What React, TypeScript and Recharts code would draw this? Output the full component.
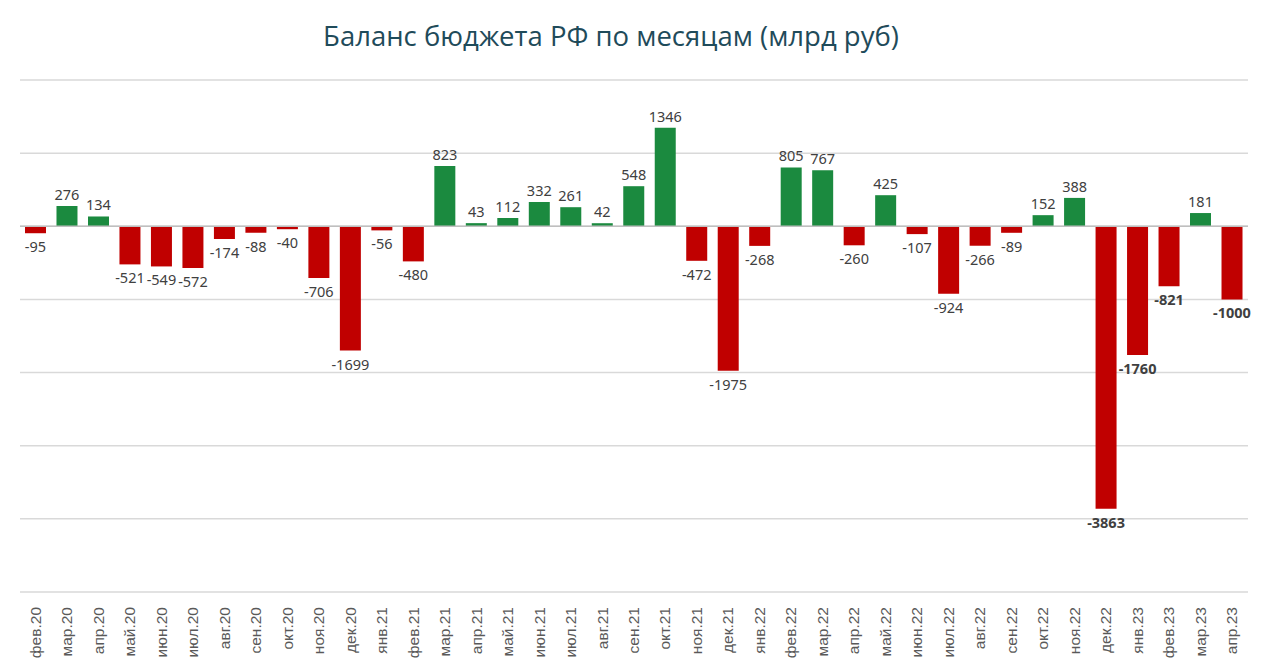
import React from "react";
import {
  BarChart,
  Bar,
  XAxis,
  YAxis,
  CartesianGrid,
  ReferenceLine,
  LabelList,
  Cell,
} from "recharts";

const months = [
  "фев.20", "мар.20", "апр.20", "май.20", "июн.20", "июл.20", "авг.20", "сен.20",
  "окт.20", "ноя.20", "дек.20", "янв.21", "фев.21", "мар.21", "апр.21", "май.21",
  "июн.21", "июл.21", "авг.21", "сен.21", "окт.21", "ноя.21", "дек.21", "янв.22",
  "фев.22", "мар.22", "апр.22", "май.22", "июн.22", "июл.22", "авг.22", "сен.22",
  "окт.22", "ноя.22", "дек.22", "янв.23", "фев.23", "мар.23", "апр.23",
];

const balance = [
  -95, 276, 134, -521, -549, -572, -174, -88,
  -40, -706, -1699, -56, -480, 823, 43, 112,
  332, 261, 42, 548, 1346, -472, -1975, -268,
  805, 767, -260, 425, -107, -924, -266, -89,
  152, 388, -3863, -1760, -821, 181, -1000,
];

// months whose labels are shown in bold
const highlighted = ["дек.22", "янв.23", "фев.23", "апр.23"];

const yTicks = [-5000, -4000, -3000, -2000, -1000, 0, 1000, 2000];

const data = months.map((month, i) => ({ month, value: balance[i] }));

const GREEN = "#1b8a3f";
const RED = "#c00000";

const MonthTick = (props: any) => {
  const { x, y, payload } = props;
  return (
    <text
      x={x + 5}
      y={y + 7}
      transform={`rotate(-90, ${x + 5}, ${y + 7})`}
      textAnchor="end"
      fontFamily="'Liberation Sans', Arial, sans-serif"
      fontSize={15.5}
      fill="#595959"
    >
      {payload.value}
    </text>
  );
};

const ValueLabel = (props: any) => {
  const { x, y, width, height, value, index } = props;
  const top = Math.min(y, y + height);
  const bottom = Math.max(y, y + height);
  const cx = x + width / 2;
  const bold = highlighted.includes(months[index]);
  return (
    <text
      x={cx}
      y={value >= 0 ? top - 6 : bottom + 19}
      textAnchor="middle"
      fontFamily="'Noto Sans', sans-serif"
      fontSize={14.5}
      fontWeight={bold ? 700 : 400}
      fill="#404040"
    >
      {value}
    </text>
  );
};

export default function App() {
  return (
    <div style={{ position: "absolute", left: 0, top: 0, width: 1280, height: 671, background: "#fff" }}>
      <div
        style={{
          position: "absolute",
          left: 0,
          top: 17,
          width: 1222,
          textAlign: "center",
          fontFamily: "'Open Sans', sans-serif",
          fontSize: 27.5,
          color: "#1f4b5a",
        }}
      >
        Баланс бюджета РФ по месяцам (млрд руб)
      </div>
      <BarChart
        width={1280}
        height={671}
        data={data}
        margin={{ top: 80, right: 32, left: 20, bottom: 0 }}
        barSize={21}
      >
        <CartesianGrid vertical={false} stroke="#d9d9d9" strokeWidth={1.5} />
        <XAxis
          dataKey="month"
          interval={0}
          height={79}
          axisLine={false}
          tickLine={false}
          tick={<MonthTick />}
        />
        <YAxis hide domain={[-5000, 2000]} ticks={yTicks} />
        <ReferenceLine y={0} stroke="#bfbfbf" strokeWidth={1.5} />
        <Bar dataKey="value" isAnimationActive={false}>
          {data.map((d) => (
            <Cell key={d.month} fill={d.value >= 0 ? GREEN : RED} />
          ))}
          <LabelList dataKey="value" content={<ValueLabel />} />
        </Bar>
      </BarChart>
    </div>
  );
}
